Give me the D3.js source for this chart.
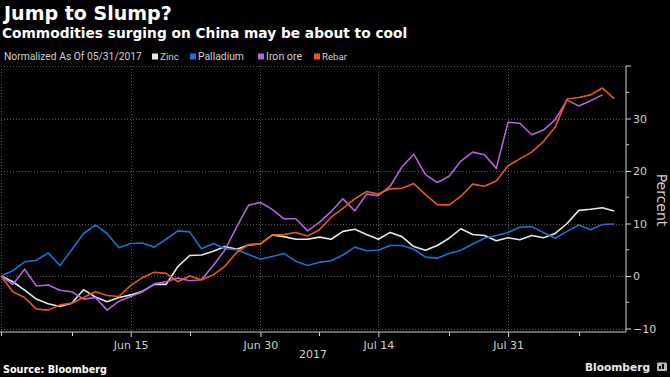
<!DOCTYPE html>
<meta charset="UTF-8">
<style>
    body { margin: 0; background: #000; }
    svg { display: block; background: #000; }
    text { font-family: "DejaVu Sans", sans-serif; }
    .grid line { stroke: #555; stroke-width: 1px; stroke-dasharray: 1,2; }
    .series { fill: none; stroke-width: 1.6px; stroke-linejoin: round; }
    .legend { font-family: Roboto, "DejaVu Sans", sans-serif; }
</style>
<body>
<div id="chart"></div>
<script src="https://d3js.org/d3.v7.min.js"></script>
<script>
    // trading days, normalized to 05/31/2017
    var dates = [
        "2017-05-31", "2017-06-01", "2017-06-02", "2017-06-05", "2017-06-06", "2017-06-07", "2017-06-08",
        "2017-06-09", "2017-06-12", "2017-06-13", "2017-06-14", "2017-06-15", "2017-06-16", "2017-06-19",
        "2017-06-20", "2017-06-21", "2017-06-22", "2017-06-23", "2017-06-26", "2017-06-27", "2017-06-28",
        "2017-06-29", "2017-06-30", "2017-07-03", "2017-07-04", "2017-07-05", "2017-07-06", "2017-07-07",
        "2017-07-10", "2017-07-11", "2017-07-12", "2017-07-13", "2017-07-14", "2017-07-17", "2017-07-18",
        "2017-07-19", "2017-07-20", "2017-07-21", "2017-07-24", "2017-07-25", "2017-07-26", "2017-07-27",
        "2017-07-28", "2017-07-31", "2017-08-01", "2017-08-02", "2017-08-03", "2017-08-04", "2017-08-07",
        "2017-08-08", "2017-08-09", "2017-08-10", "2017-08-11"
    ];

    var zinc = [0, -1.1, -2.7, -4.4, -5.3, -5.8, -5.2, -2.6, -4.0, -4.9, -4.1, -3.6, -2.9, -1.6, -1.6,
        1.8, 3.9, 4.0, 4.7, 5.6, 5.1, 5.9, 6.1, 7.8, 7.5, 7.0, 7.0, 7.4, 7.0, 8.5, 8.9, 7.9, 7.0, 8.3,
        7.5, 5.6, 4.9, 5.8, 7.2, 9.0, 7.9, 7.7, 6.7, 7.3, 6.9, 7.7, 7.3, 8.1, 10.0, 12.5, 12.7, 13.0, 12.4];

    var palladium = [0, 1.0, 2.7, 3.0, 4.4, 2.0, 5.0, 8.1, 9.7, 8.1, 5.4, 6.2, 6.3, 5.5, 7.0, 8.6, 8.4,
        5.2, 6.2, 5.2, 5.0, 4.1, 3.2, 3.7, 4.3, 2.8, 2.0, 2.6, 2.9, 4.0, 5.5, 4.8, 4.9, 5.8, 5.8, 5.1,
        3.6, 3.4, 4.3, 4.9, 6.1, 7.2, 7.7, 8.3, 9.3, 9.4, 8.3, 7.2, 8.5, 9.7, 8.8, 9.8, 9.9];

    var ironOre = [0, -1.6, 1.3, -1.9, -1.7, -2.7, -3.0, -4.4, -4.1, -6.5, -4.8, -3.9, -3.0, -1.5, -1.1,
        -0.4, -0.9, -0.7, 2.0, 5.0, 9.4, 13.5, 14.0, 12.7, 10.9, 10.9, 8.6, 10.2, 12.3, 14.7, 12.4, 15.6,
        15.3, 17.1, 20.8, 23.2, 19.3, 17.8, 19.0, 21.9, 23.6, 23.1, 20.5, 29.3, 29.1, 26.9, 27.8, 29.8,
        33.5, 32.4, 33.4, 34.5];

    var rebar = [0, -3.0, -4.1, -6.3, -6.5, -5.5, -5.2, -4.1, -3.0, -3.7, -3.9, -1.8, -0.3, 0.7, 0.5,
        -1.1, 0.0, -0.7, 0.2, 1.9, 4.5, 6.0, 6.1, 7.8, 7.9, 8.3, 7.6, 8.8, 11.2, 12.9, 14.7, 16.1, 15.6,
        16.6, 16.7, 17.6, 15.5, 13.6, 13.5, 15.2, 17.5, 17.1, 18.1, 21.0, 22.3, 23.6, 25.6, 28.4, 33.7,
        34.0, 34.5, 35.8, 33.8];

    var seriesNames = ["Zinc", "Palladium", "Iron ore", "Rebar"];
    var seriesColors = ["#e6e6e6", "#1a72d0", "#b462dc", "#ea5a0e"];
    var seriesValues = [zinc, palladium, ironOre, rebar];

    var majorTicks = ["2017-06-15", "2017-06-30", "2017-07-14", "2017-07-31"];
    var majorLabels = ["Jun 15", "Jun 30", "Jul 14", "Jul 31"];
    var minorTicks = ["2017-05-31", "2017-06-08", "2017-06-22", "2017-07-07", "2017-07-24", "2017-08-08"];
    var yTicks = [-10, 0, 10, 20, 30];
    var yMinor = [-5, 5, 15, 25, 35, 40];
    var yGrid = [-10, 0, 10, 20, 30, 40];

    var W = 670, H = 377;
    var plot = {left: 1, right: 626, top: 66, bottom: 332};

    var svg = d3.select("#chart").append("svg")
            .attr("width", W)
            .attr("height", H);

    var x = d3.scaleLinear().domain([0, 53]).range([plot.left, plot.right]);
    var y = d3.scaleLinear().domain([0, 40]).range([276, plot.top]);

    function idx(d) { return dates.indexOf(d); }

    // helper: shrink/grow font so that text spans the target width
    function fit(sel, width) {
        var fs = parseFloat(sel.style("font-size"));
        var w = sel.node().getComputedTextLength();
        sel.style("font-size", (fs * width / w).toFixed(2) + "px");
        return sel;
    }

    // titles
    fit(svg.append("text").attr("x", 4).attr("y", 20)
            .attr("fill", "#fff").style("font-weight", "bold").style("font-size", "19px")
            .text("Jump to Slump?"), 168);
    fit(svg.append("text").attr("x", 2).attr("y", 37.5)
            .attr("fill", "#fff").style("font-weight", "bold").style("font-size", "13px")
            .text("Commodities surging on China may be about to cool"), 405);

    // legend
    fit(svg.append("text").attr("class", "legend").attr("x", 4).attr("y", 59.5)
            .attr("fill", "#cfcfcf").style("font-size", "10px")
            .text("Normalized As Of 05/31/2017"), 138);
    var legendX = [152, 190, 258, 314];
    var legendW = [19, 46, 36, 25];
    seriesNames.forEach(function (name, i) {
        svg.append("rect").attr("x", legendX[i]).attr("y", 53.5).attr("width", 6).attr("height", 6)
                .attr("fill", seriesColors[i]);
        fit(svg.append("text").attr("class", "legend").attr("x", legendX[i] + 8).attr("y", 59.5)
                .attr("fill", "#cfcfcf").style("font-size", "10px").text(name), legendW[i]);
    });

    // grid
    var grid = svg.append("g").attr("class", "grid");
    grid.selectAll("line.h").data(yGrid).enter().append("line")
            .attr("x1", plot.left).attr("x2", plot.right)
            .attr("y1", function (d) { return Math.round(y(d)) + 0.5; })
            .attr("y2", function (d) { return Math.round(y(d)) + 0.5; });
    grid.selectAll("line.v").data(["2017-05-31"].concat(majorTicks)).enter().append("line")
            .attr("x1", function (d) { return Math.round(x(idx(d))) + 0.5; })
            .attr("x2", function (d) { return Math.round(x(idx(d))) + 0.5; })
            .attr("y1", plot.top).attr("y2", plot.bottom);

    // series lines
    var line = d3.line()
            .x(function (d, i) { return x(i); })
            .y(function (d) { return y(d); });
    svg.selectAll("path.series").data(seriesValues).enter().append("path")
            .attr("class", "series")
            .attr("stroke", function (d, i) { return seriesColors[i]; })
            .attr("d", line);

    // right axis
    var yAxis = d3.axisRight(y).tickValues(yTicks).tickSize(5).tickPadding(2)
            .tickFormat(d3.format("d"));
    var gy = svg.append("g").attr("transform", "translate(" + plot.right + ",0)").call(yAxis);
    gy.select(".domain").attr("d", "M0," + plot.top + "V" + plot.bottom).attr("stroke", "#cfcfcf");
    gy.selectAll(".tick line").attr("stroke", "#cfcfcf");
    gy.selectAll(".tick text").attr("fill", "#cfcfcf")
            .style("font-size", "11px").style("font-family", "DejaVu Sans, sans-serif");
    gy.selectAll("line.minor").data(yMinor).enter().append("line")
            .attr("x1", 0).attr("x2", function (d) { return d === 40 ? 5 : 3; })
            .attr("y1", function (d) { return y(d); }).attr("y2", function (d) { return y(d); })
            .attr("stroke", "#cfcfcf");

    // bottom axis
    var xAxis = d3.axisBottom(x).tickValues(majorTicks.map(idx)).tickSize(5).tickPadding(4)
            .tickFormat(function (d, i) { return majorLabels[i]; });
    var gx = svg.append("g").attr("transform", "translate(0," + plot.bottom + ")").call(xAxis);
    gx.select(".domain").attr("d", "M0,0H" + plot.right).attr("stroke", "#cfcfcf");
    gx.selectAll(".tick line").attr("stroke", "#cfcfcf");
    gx.selectAll(".tick text").attr("fill", "#cfcfcf")
            .style("font-size", "11px").style("font-family", "DejaVu Sans, sans-serif");
    gx.selectAll("line.minor").data(minorTicks).enter().append("line")
            .attr("x1", function (d) { return Math.round(x(idx(d))) + 0.5; })
            .attr("x2", function (d) { return Math.round(x(idx(d))) + 0.5; })
            .attr("y1", 0).attr("y2", 4)
            .attr("stroke", "#cfcfcf");

    svg.append("text").attr("x", 313).attr("y", 358).attr("text-anchor", "middle")
            .attr("fill", "#cfcfcf").style("font-size", "11px").text("2017");

    // axis title
    svg.append("text").attr("transform", "translate(657,200) rotate(90)")
            .attr("text-anchor", "middle").attr("fill", "#cfcfcf").style("font-size", "14px")
            .text("Percent");

    // footer
    fit(svg.append("text").attr("x", 3).attr("y", 373)
            .attr("fill", "#fff").style("font-weight", "bold").style("font-size", "11px")
            .text("Source: Bloomberg"), 104);
    fit(svg.append("text").attr("x", 585).attr("y", 371)
            .attr("fill", "#e8e8e8").style("font-weight", "bold").style("font-size", "11px")
            .text("Bloomberg"), 65);
    svg.append("rect").attr("x", 657).attr("y", 362.5).attr("width", 10).attr("height", 8.5)
            .attr("rx", 1.5).attr("fill", "#bdbdbd");
    svg.append("rect").attr("x", 659).attr("y", 366).attr("width", 2).attr("height", 3).attr("fill", "#000");
    svg.append("rect").attr("x", 662).attr("y", 364).attr("width", 2).attr("height", 5).attr("fill", "#000");
</script>
</body>
